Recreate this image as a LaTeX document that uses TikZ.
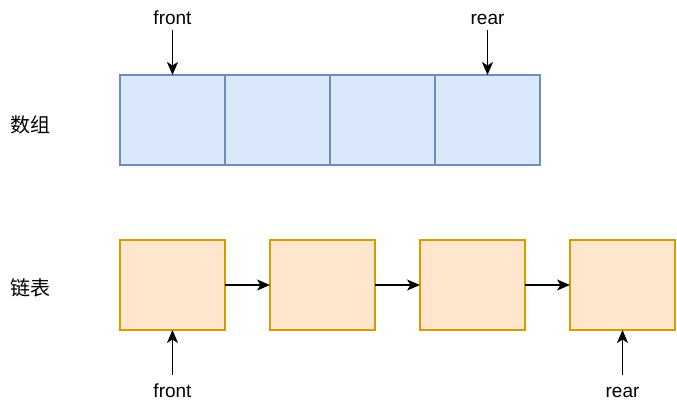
\documentclass[tikz,border=0pt]{standalone}
\usepackage{fontspec}
\setmainfont{Liberation Sans}
\newfontfamily\cjk{Noto Sans CJK SC}
\usetikzlibrary{arrows.meta}
\definecolor{bluefill}{HTML}{DAE8FC}
\definecolor{bluedraw}{HTML}{6C8EBF}
\definecolor{orfill}{HTML}{FFE6CC}
\definecolor{ordraw}{HTML}{D79B00}
\begin{document}
\begin{tikzpicture}[x=1pt,y=-1pt,
  cell/.style={draw=bluedraw,fill=bluefill,line width=1.3pt,outer sep=0pt,minimum width=105pt,minimum height=90pt,inner sep=0pt,anchor=north west},
  lnode/.style={draw=ordraw,fill=orfill,line width=1.3pt,outer sep=0pt,minimum width=105pt,minimum height=90pt,inner sep=0pt,anchor=north west},
  lbl/.style={font=\fontsize{19}{22}\selectfont,inner sep=0pt,anchor=base},
  cjklbl/.style={font=\cjk\fontsize{20}{22}\selectfont,inner sep=0pt},
  arr/.style={line width=1.5pt,-{Stealth[length=13pt,width=11pt,inset=3.5pt]}}]
\useasboundingbox (0,0) rectangle (677,407);
% array
\node[cell] (a1) at (120,75) {};
\node[cell] (a2) at (225,75) {};
\node[cell] (a3) at (330,75) {};
\node[cell] (a4) at (435,75) {};
\node[lbl] (af) at (172.5,24) {front};
\node[lbl] (ar) at (487.5,24) {rear};
\coordinate (afs) at (172.5,30);
\coordinate (ars) at (487.5,30);
\draw[arr] (afs) -- (a1.north);
\draw[arr] (ars) -- (a4.north);
\node[cjklbl] (sz) at (30,125) {数组};
% linked list
\node[lnode] (l1) at (120,240) {};
\node[lnode] (l2) at (270,240) {};
\node[lnode] (l3) at (420,240) {};
\node[lnode] (l4) at (570,240) {};
\draw[arr] (l1.east) -- (l2.west);
\draw[arr] (l2.east) -- (l3.west);
\draw[arr] (l3.east) -- (l4.west);
\node[cjklbl] (lb) at (30,288) {链表};
\node[lbl] (lf) at (172.5,397) {front};
\node[lbl] (lr) at (622.5,397) {rear};
\coordinate (lfs) at (172.5,375);
\coordinate (lrs) at (622.5,375);
\draw[arr] (lfs) -- (l1.south);
\draw[arr] (lrs) -- (l4.south);
\end{tikzpicture}
\end{document}
